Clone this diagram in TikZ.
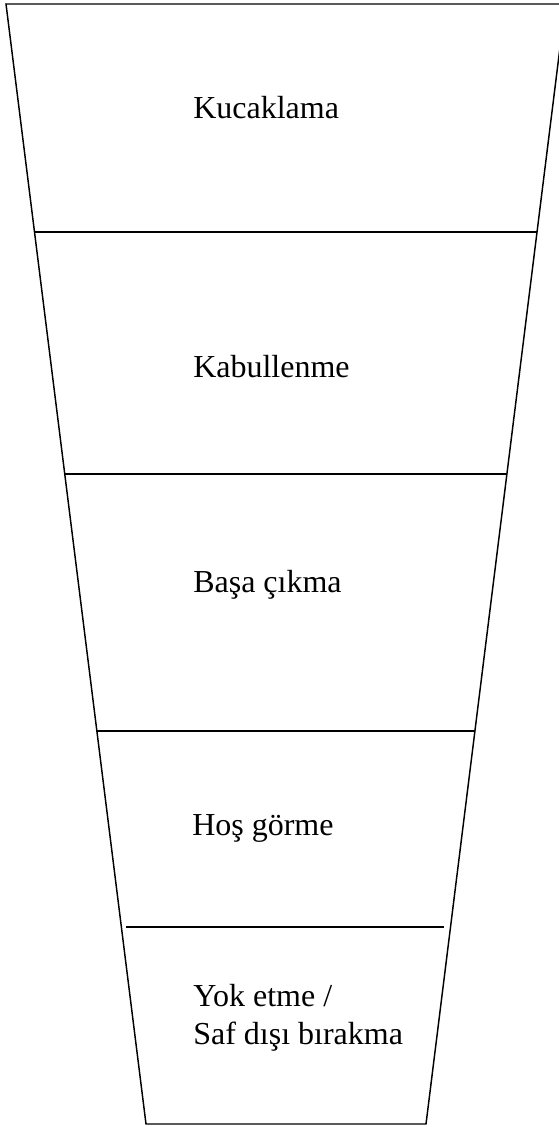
\documentclass[tikz,border=0pt]{standalone}
\usepackage{fontspec}
\setmainfont{Liberation Serif}
\begin{document}
\begin{tikzpicture}[x=0.75pt,y=-0.75pt,
  edge/.style={line width=1.1pt, line join=miter},
  label/.style={anchor=base west, inner sep=0pt, font=\fontsize{24}{29}\selectfont, align=left}]
\useasboundingbox (0,0) rectangle (559,1127);
\clip (0,0) rectangle (559,1127);
% corners
\coordinate (TL) at (6,4);
\coordinate (TR) at (565.4,4);
\coordinate (BL) at (146,1124);
\coordinate (BR) at (426,1124);
% funnel outline
\draw[edge] (TR) -- (TL) -- (BL) -- (BR) -- (TR);
% dividers
\coordinate (a1) at (34.5,232);  \coordinate (b1) at (537,232);
\coordinate (a2) at (64.8,474);  \coordinate (b2) at (506.9,474);
\coordinate (a3) at (96.9,731);  \coordinate (b3) at (475,731);
\coordinate (a4) at (126,927);   \coordinate (b4) at (444,927);
\draw[edge] (a1) -- (b1);
\draw[edge] (a2) -- (b2);
\draw[edge] (a3) -- (b3);
\draw[edge] (a4) -- (b4);
% labels
\node[label] (t1) at (193,119) {Kucaklama};
\node[label] (t2) at (193,377) {Kabullenme};
\node[label] (t3) at (193,592) {Başa çıkma};
\node[label] (t4) at (192,835) {Hoş görme};
\node[label] (t5) at (193,1006) {Yok etme /};
\node[label] (t6) at (193,1044) {Saf dışı bırakma};
\end{tikzpicture}
\end{document}
